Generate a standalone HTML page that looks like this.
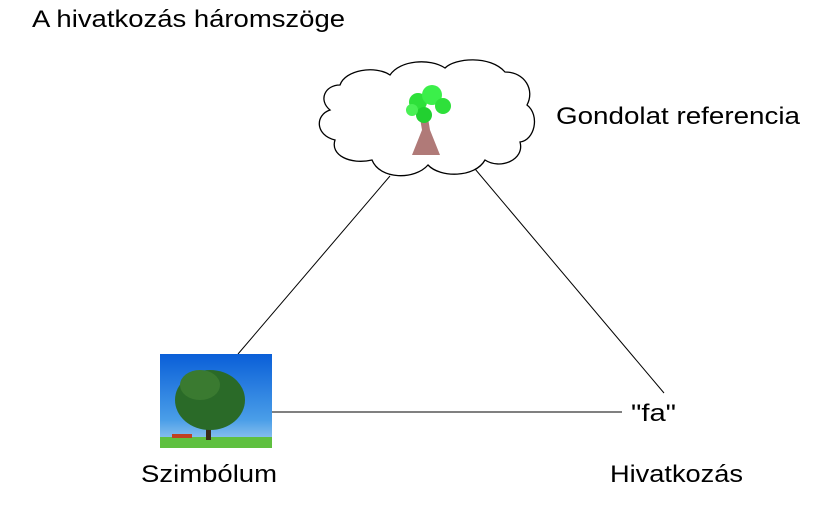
<!DOCTYPE html>
<html><head><meta charset="utf-8"><style>
body{margin:0;width:832px;height:507px;background:#fff;overflow:hidden}
svg{display:block}
text{font-family:"Liberation Sans",sans-serif;fill:#000}
</style></head><body>
<svg width="832" height="507" viewBox="0 0 832 507">
<defs>
<linearGradient id="sky" x1="0" y1="0" x2="0" y2="1">
<stop offset="0" stop-color="#0a5fd8"/><stop offset="0.7" stop-color="#4a9ee8"/><stop offset="1" stop-color="#a8d0f0"/>
</linearGradient>
</defs>
<text x="32" y="27" font-size="24" textLength="313" lengthAdjust="spacingAndGlyphs">A hivatkozás háromszöge</text>
<text x="556" y="124" font-size="24" textLength="244" lengthAdjust="spacingAndGlyphs">Gondolat referencia</text>
<text x="141" y="482" font-size="24" textLength="136" lengthAdjust="spacingAndGlyphs">Szimbólum</text>
<text x="610" y="482" font-size="24" textLength="133" lengthAdjust="spacingAndGlyphs">Hivatkozás</text>
<text x="631" y="421" font-size="24" textLength="45" lengthAdjust="spacingAndGlyphs">"fa"</text>
<line x1="390" y1="176" x2="238" y2="354" stroke="#000" stroke-width="1"/>
<line x1="470" y1="163" x2="664" y2="393" stroke="#000" stroke-width="1"/>
<line x1="272" y1="412" x2="622" y2="412" stroke="#000" stroke-width="1"/>
<path d="M340,85 C345,70 375,65 390,75 C400,60 430,58 445,68 C455,58 490,55 505,72 C525,72 535,90 527,105 C540,115 535,140 520,142 C525,160 500,170 485,160 C475,178 440,178 428,165 C415,180 380,180 372,160 C350,165 330,155 335,140 C315,135 315,115 330,110 C318,100 325,85 340,85 Z" fill="#fff" stroke="#000" stroke-width="1.3"/>
<path d="M412,155 L422,130 L420,118 L428,118 L430,130 L440,155 Z" fill="#b07a78"/>
<circle cx="418" cy="102" r="9" fill="#2ee03a"/><circle cx="432" cy="95" r="10" fill="#3bef4a"/>
<circle cx="443" cy="106" r="8" fill="#2ee03a"/><circle cx="424" cy="115" r="8" fill="#22d030"/>
<circle cx="412" cy="110" r="6" fill="#4af055"/>
<rect x="160" y="354" width="112" height="94" fill="url(#sky)"/>
<rect x="160" y="437" width="112" height="11" fill="#5fc040"/>
<rect x="206" y="415" width="5" height="25" fill="#3a2a18"/>
<ellipse cx="210" cy="400" rx="35" ry="30" fill="#2a6a28"/>
<ellipse cx="200" cy="385" rx="20" ry="15" fill="#3a7a30"/>
<rect x="172" y="434" width="20" height="4" fill="#c04020"/>
</svg>
</body></html>
